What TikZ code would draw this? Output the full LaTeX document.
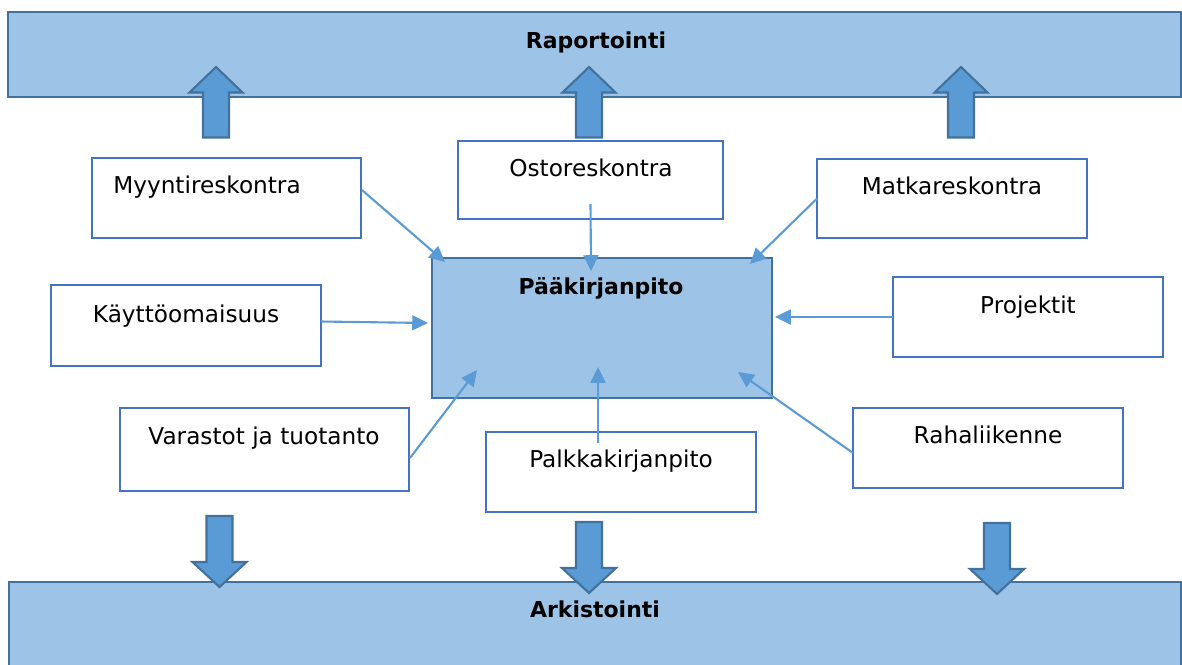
\documentclass[tikz,border=0pt]{standalone}
\usepackage{fontspec}
\setmainfont{DejaVu Sans}
\usepackage{xcolor}
\usepackage{tikz}
\usetikzlibrary{calc,arrows.meta}

\definecolor{barfill}{HTML}{9DC3E6}
\definecolor{barline}{HTML}{41719C}
\definecolor{arrfill}{HTML}{5B9BD5}
\definecolor{boxline}{HTML}{4472C4}

\tikzset{
  bar/.style={draw=barline,fill=barfill,line width=1.2pt,inner sep=0pt,outer sep=0pt},
  box/.style={draw=boxline,fill=white,line width=1.3pt,inner sep=0pt,outer sep=0pt,
    minimum width=5.4cm,minimum height=1.6cm},
  bigarrow/.style={draw=barline,fill=arrfill,line width=1.2pt,line join=miter},
  feed/.style={draw=arrfill,line width=1.2pt,->},
  txt/.style={anchor=base,inner sep=0pt,font=\fontsize{13.2}{15}\selectfont},
  hd/.style={txt,font=\fontsize{12.5}{14}\selectfont\bfseries}
}

\begin{document}
\begin{tikzpicture}[x=0.02cm,y=-0.02cm,>={Triangle[length=9pt,width=8.5pt]}]
  \useasboundingbox (0,0) rectangle (1182,664);
  \clip (0,0) rectangle (1182,664);

  % the two bars
  \node[bar,minimum width=23.46cm,minimum height=1.7cm] (raport) at (594.5,54.5) {};
  \node[bar,minimum width=23.44cm,minimum height=1.7cm] (arkisto) at (595,624.5) {};
  \node[hd] (raportT) at (596,48) {Raportointi};
  \node[hd] (arkistoT) at (595,617) {Arkistointi};

  % block arrows
  \foreach \x in {216,589,961}
    \draw[bigarrow] (\x-13,137.5) -- (\x-13,92.5) -- (\x-26.5,92.5) -- (\x,67)
      -- (\x+26.5,92.5) -- (\x+13,92.5) -- (\x+13,137.5) -- cycle;
  \foreach \x/\y in {219.5/516,589/522,997/523}
    \draw[bigarrow] (\x-13,\y) -- (\x-13,\y+46) -- (\x-27,\y+46) -- (\x,\y+71)
      -- (\x+27,\y+46) -- (\x+13,\y+46) -- (\x+13,\y) -- cycle;

  % ledger
  \node[bar,minimum width=6.8cm,minimum height=2.8cm] (paak) at (602,328) {};
  \node[hd] (paakT) at (601,294) {Pääkirjanpito};

  % sub ledgers
  \node[box,minimum width=5.38cm] (myynti) at (226.5,198) {};
  \node[box,minimum width=5.3cm,minimum height=1.56cm] (osto) at (590.5,180) {};
  \node[box,minimum height=1.58cm] (matka) at (952,198.5) {};
  \node[box,minimum height=1.62cm] (kaytto) at (186,325.5) {};
  \node[box,minimum width=5.78cm,minimum height=1.66cm] (varasto) at (264.5,449.5) {};
  \node[box] (palkka) at (621,472) {};
  \node[box] (projekt) at (1028,317) {};
  \node[box] (raha) at (988,448) {};

  \node[txt] (myyntiT) at (207,193) {Myyntireskontra};
  \node[txt] (ostoT) at (591,176) {Ostoreskontra};
  \node[txt] (matkaT) at (952,194) {Matkareskontra};
  \node[txt] (kayttoT) at (186,322) {Käyttöomaisuus};
  \node[txt] (varastoT) at (264,444) {Varastot ja tuotanto};
  \node[txt] (palkkaT) at (621,467) {Palkkakirjanpito};
  \node[txt] (projektT) at (1028,313) {Projektit};
  \node[txt] (rahaT) at (988,443) {Rahaliikenne};

  % feeds into the ledger
  \draw[feed] ($(myynti.east)+(1,-8)$) -- ($(paak.north west)+(13,4)$);
  \draw[feed] ($(osto.south)+(0,-15)$) -- ($(paak.north)+(-11,13)$);
  \draw[feed] (matka.west) -- ($(paak.north east)+(-22,6)$);
  \draw[feed] ($(kaytto.east)+(0,-4)$) -- ($(paak.west)+(-4,-5)$);
  \draw[feed] ($(varasto.east)+(1,8.5)$) -- ($(paak.south west)+(45,-28)$);
  \draw[feed] ($(palkka.north)+(-23,11)$) -- ($(paak.south)+(-4,-31)$);
  \draw[feed] (projekt.west) -- ($(paak.east)+(3,-11)$);
  \draw[feed] ($(raha.west)+(0,5)$) -- ($(paak.south east)+(-34,-26)$);
\end{tikzpicture}
\end{document}
